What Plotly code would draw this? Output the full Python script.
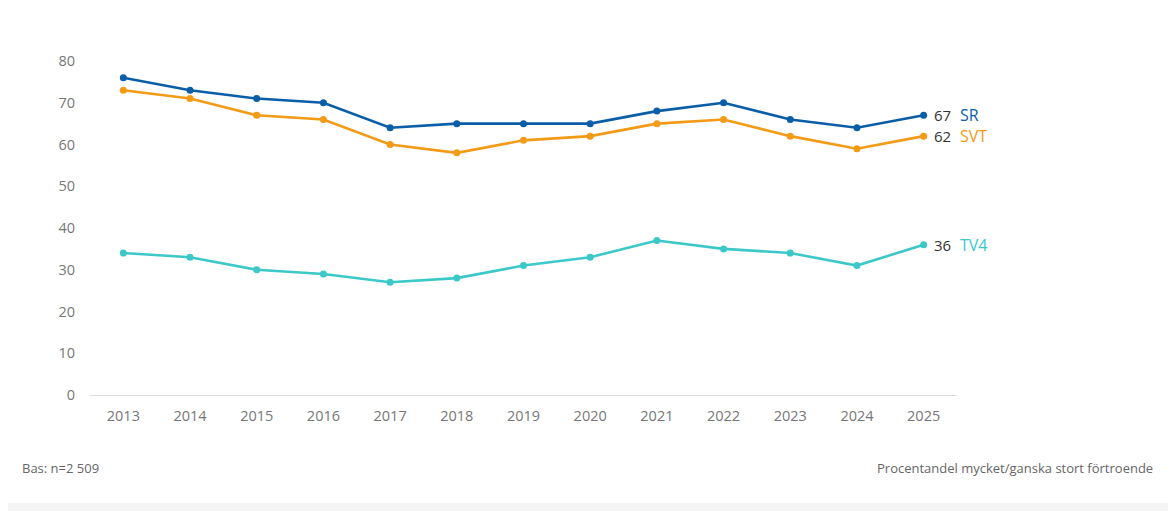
import plotly.graph_objects as go

years = list(range(2013, 2026))
sr = [76, 73, 71, 70, 64, 65, 65, 65, 68, 70, 66, 64, 67]
svt = [73, 71, 67, 66, 60, 58, 61, 62, 65, 66, 62, 59, 62]
tv4 = [34, 33, 30, 29, 27, 28, 31, 33, 37, 35, 34, 31, 36]
y_ticks = [0, 10, 20, 30, 40, 50, 60, 70, 80]

series = [("SR", sr, "#0a5ea8"), ("SVT", svt, "#f39a16"), ("TV4", tv4, "#3cc8c8")]

OFF = 8  # page body margin
W, H = 1176 - OFF, 511 - OFF
ml, mt = 90 - OFF, 61 - OFF
pw, ph = 867, 334
mr, mb = W - ml - pw, H - mt - ph

def py(pix):
    # reference pixel y -> paper coordinate
    return (mt + ph - (pix - OFF)) / ph

def px(pix):
    return (pix - OFF - ml) / pw

fig = go.Figure()
FONT = "Open Sans"
for name, vals, col in series:
    fig.add_trace(go.Scatter(x=years, y=vals, mode="lines+markers", name=name,
                             line=dict(color=col, width=2.6),
                             marker=dict(color=col, size=7), hoverinfo="x+y"))
    fig.add_annotation(x=years[-1], y=vals[-1], xref="x", yref="y", text=str(vals[-1]),
                       showarrow=False, xanchor="left", xshift=8,
                       font=dict(family=FONT, size=15, color="#333333"))
    fig.add_annotation(x=years[-1], y=vals[-1], xref="x", yref="y", text=name,
                       showarrow=False, xanchor="left", xshift=34,
                       font=dict(family=FONT, size=16, color=col))

fig.add_annotation(x=px(20), y=py(468), xref="paper", yref="paper",
                   text="Bas: n=2 509", showarrow=False, xanchor="left", yanchor="middle",
                   font=dict(family=FONT, size=13, color="#666666"))
fig.add_annotation(x=px(1155), y=py(468), xref="paper", yref="paper",
                   text="Procentandel mycket/ganska stort förtroende", showarrow=False,
                   xanchor="right", yanchor="middle",
                   font=dict(family=FONT, size=13, color="#666666"))

fig.add_shape(type="rect", xref="paper", yref="paper", x0=px(0), x1=px(1176),
              y0=py(520), y1=py(503),
              fillcolor="#f4f4f4", line=dict(width=0), layer="below")

fig.update_layout(
    width=W, height=H, margin=dict(l=ml, r=mr, t=mt, b=mb),
    paper_bgcolor="white", plot_bgcolor="white", showlegend=False,
    font=dict(family=FONT, size=14, color="#777777"),
    xaxis=dict(range=[2012.5, 2025.5], tickvals=years, showgrid=False, zeroline=False,
               showline=True, linecolor="#dddddd", linewidth=1, ticks="",
               ticklabelstandoff=8,
               tickfont=dict(size=14.5, color="#777777")),
    yaxis=dict(range=[0, 80], tickvals=y_ticks, showgrid=False, zeroline=False,
               showline=False, ticks="", ticklabelstandoff=14,
               tickfont=dict(size=14.5, color="#777777")),
)

fig.write_html("out.html")
